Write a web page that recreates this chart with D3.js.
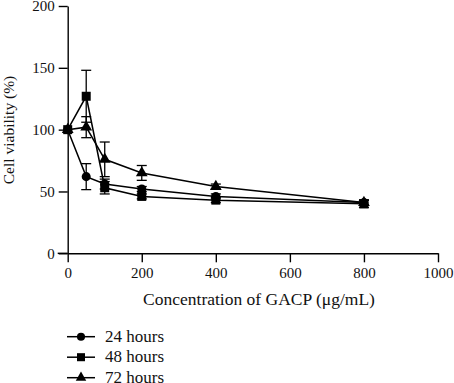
<!DOCTYPE html>
<html>
<head>
<meta charset="utf-8">
<script src="https://cdn.jsdelivr.net/npm/d3@7"></script>
<style>
  body { margin: 0; background: #fff; }
  svg text { font-family: 'Liberation Serif', 'Times New Roman', 'DejaVu Serif', serif !important; }
</style>
</head>
<body>
<div id="chart"></div>
<script>
// concentrations (µg/mL) and viability (%) per exposure time
const conc = [0, 50, 100, 200, 400, 800];
const seriesNames = ["24 hours", "48 hours", "72 hours"];
const v24 = [100, 62, 56, 52, 46, 41];
const e24 = [0, 10.5, 4, 2, 2, 2];
const v48 = [100, 127, 53, 46, 43, 40];
const e48 = [0, 21, 5, 2, 2, 3];
const v72 = [100, 102, 76, 65, 54, 41];
const e72 = [0, 8.5, 14, 6, 2, 2];
const xTicks = [0, 200, 400, 600, 800, 1000];
const yTicks = [0, 50, 100, 150, 200];

const series = [
  { name: seriesNames[0], vals: v24, errs: e24, sym: d3.symbolCircle, size: 64 },
  { name: seriesNames[1], vals: v48, errs: e48, sym: d3.symbolSquare, size: 81 },
  { name: seriesNames[2], vals: v72, errs: e72, sym: d3.symbolTriangle, size: 60 }
];

const W = 454, H = 383;
const svg = d3.select("#chart").append("svg").attr("width", W).attr("height", H);

const x = d3.scaleLinear().domain([0, 1000]).range([67.7, 438]);
const y = d3.scaleLinear().domain([0, 200]).range([253.3, 6]);

// axes
const xAxis = svg.append("g").attr("transform", `translate(0,${y(0)})`)
  .call(d3.axisBottom(x).tickValues(xTicks).tickFormat(d3.format("d"))
    .tickSize(9).tickPadding(5).tickSizeOuter(0));
const yAxis = svg.append("g").attr("transform", `translate(${x(0)},0)`)
  .call(d3.axisLeft(y).tickValues(yTicks).tickSize(9).tickPadding(4).tickSizeOuter(0));
[xAxis, yAxis].forEach(g => {
  g.attr("font-family", null);
  g.select(".domain").attr("stroke", "#000").attr("stroke-width", 1.4);
  g.selectAll(".tick line").attr("stroke", "#000").attr("stroke-width", 1.4);
  g.selectAll(".tick text").attr("font-size", 15).attr("fill", "#111");
});
// x axis line runs a little left of the y axis
svg.append("line").attr("x1", x(0) - 10).attr("x2", x(0))
  .attr("y1", y(0)).attr("y2", y(0)).attr("stroke", "#000").attr("stroke-width", 1.4);

svg.append("text").attr("x", 259).attr("y", 305).attr("text-anchor", "middle")
  .attr("font-size", 17.5).attr("fill", "#111").text("Concentration of GACP (μg/mL)");
svg.append("text").attr("transform", `translate(14,130) rotate(-90)`)
  .attr("text-anchor", "middle").attr("font-size", 15.5).attr("fill", "#111")
  .text("Cell viability (%)");

const line = d3.line().x(d => x(d[0])).y(d => y(d[1]));

series.forEach(s => {
  const pts = conc.map((c, i) => [c, s.vals[i], s.errs[i]]);
  const g = svg.append("g");
  // error bars
  pts.filter(p => p[2] > 0).forEach(p => {
    const cx = x(p[0]);
    g.append("line").attr("x1", cx).attr("x2", cx)
      .attr("y1", y(p[1] - p[2])).attr("y2", y(p[1] + p[2]))
      .attr("stroke", "#000").attr("stroke-width", 1.3);
    [p[1] - p[2], p[1] + p[2]].forEach(v => {
      g.append("line").attr("x1", cx - 5).attr("x2", cx + 5)
        .attr("y1", y(v)).attr("y2", y(v))
        .attr("stroke", "#000").attr("stroke-width", 1.3);
    });
  });
  g.append("path").datum(pts).attr("d", line)
    .attr("fill", "none").attr("stroke", "#000").attr("stroke-width", 1.5);
  g.selectAll("path.m").data(pts).join("path").attr("class", "m")
    .attr("transform", p => `translate(${x(p[0])},${y(p[1])})`)
    .attr("d", d3.symbol().type(s.sym).size(s.size)).attr("fill", "#000");
});

// legend
const leg = svg.append("g");
series.forEach((s, i) => {
  const ly = 336.7 + i * 20.5;
  leg.append("line").attr("x1", 67).attr("x2", 95).attr("y1", ly).attr("y2", ly)
    .attr("stroke", "#000").attr("stroke-width", 1.5);
  leg.append("path").attr("transform", `translate(81,${ly})`)
    .attr("d", d3.symbol().type(s.sym).size(s.size * 0.8)).attr("fill", "#000");
  leg.append("text").attr("x", 105).attr("y", ly + 5).attr("font-size", 17)
    .attr("fill", "#111").text(s.name);
});
</script>
</body>
</html>
